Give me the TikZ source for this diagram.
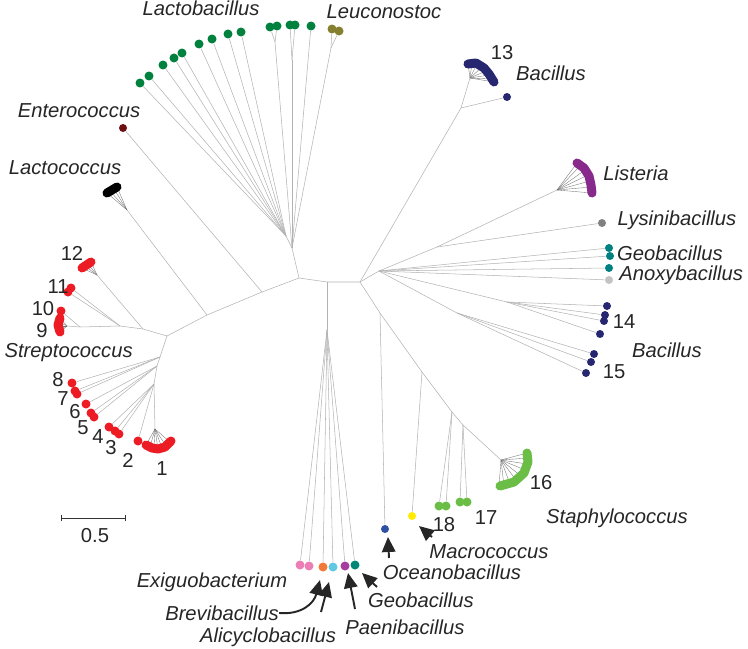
\documentclass[tikz,border=0pt]{standalone}
\usepackage{fontspec}
\setmainfont{Liberation Sans}
\usetikzlibrary{arrows.meta}
\definecolor{lactogreen}{RGB}{0,129,62}
\definecolor{leucolive}{RGB}{133,128,48}
\definecolor{enterored}{RGB}{110,15,20}
\definecolor{streptred}{RGB}{237,28,36}
\definecolor{bacnavy}{RGB}{38,38,113}
\definecolor{lismagenta}{RGB}{136,42,140}
\definecolor{lysgray}{RGB}{128,128,128}
\definecolor{geoteal}{RGB}{0,128,128}
\definecolor{anoxgray}{RGB}{195,195,195}
\definecolor{staphgreen}{RGB}{106,189,69}
\definecolor{macroyellow}{RGB}{255,236,0}
\definecolor{oceanblue}{RGB}{46,80,165}
\definecolor{exipink}{RGB}{236,126,182}
\definecolor{breviorange}{RGB}{242,122,56}
\definecolor{alicyan}{RGB}{96,200,225}
\definecolor{paepurple}{RGB}{165,60,160}
\definecolor{geobteal}{RGB}{0,135,120}
\begin{document}
\begin{tikzpicture}[x=0.02cm,y=-0.02cm,
  branch/.style={gray!60,line width=0.3pt},
  fan/.style={black!55,line width=0.2pt},
  leaf/.style={circle,fill=#1,inner sep=0pt,minimum size=0.18cm},
  smallleaf/.style={circle,fill=#1,inner sep=0pt,minimum size=0.16cm},
  blob/.style={#1,line width=0.18cm,line cap=round,line join=round},
  genus/.style={font=\fontsize{11.5}{13}\selectfont\itshape,text=black!85,inner sep=0pt},
  num/.style={font=\fontsize{11.5}{13}\selectfont,text=black!85,inner sep=0pt},
  pointer/.style={black!85,line width=1.1pt,-{Triangle[length=0.3cm,width=0.27cm]}}]
\useasboundingbox (0,0) rectangle (748,649);

% backbone
\coordinate (rootA) at (299,278);
\coordinate (rootB) at (327,282);
\coordinate (rootC) at (360,282);
\coordinate (entN) at (262,292);
\coordinate (lcN) at (207,315);
\coordinate (strH) at (167,336);
\draw[branch] (lcN) -- (entN) -- (rootA) -- (rootB) -- (rootC);
\draw[branch] (strH) -- (lcN);

% Lactobacillus / Leuconostoc
\coordinate (lacH) at (292,248);
\coordinate (lacL) at (286,236);
\coordinate (lacT) at (275,42);
\coordinate (lacV) at (292,60);
\coordinate (leuN) at (331,48);
\draw[branch] (rootA) -- (lacH) -- (lacL);
\draw[branch] (lacH) -- (lacV);
\draw[branch] (lacH) -- (lacT);
\draw[branch] (lacH) -- (leuN);
\foreach \x/\y [count=\i] in {140/83,149/76,163/65,174/58,182/53,199/44,212/39,228/34,241/32,270/27,277/26,290/25,295/25,311/26}
  \node[leaf=lactogreen] (lb\i) at (\x,\y) {};
\foreach \i in {1,...,9} \draw[branch] (lacL) -- (lb\i);
\draw[branch] (lacT) -- (lb10);
\draw[branch] (lacT) -- (lb11);
\draw[branch] (lacV) -- (lb12);
\draw[branch] (lacV) -- (lb13);
\draw[branch] (lacH) -- (lb14);
\node[leaf=leucolive] (leu1) at (332,29) {};
\node[leaf=leucolive] (leu2) at (339,31) {};
\draw[branch] (leuN) -- (leu1);
\draw[branch] (leuN) -- (leu2);

% Enterococcus / Lactococcus
\node[smallleaf=enterored] (ent) at (123,128) {};
\draw[branch] (entN) -- (ent);
\coordinate (lcA) at (127,210);
\draw[branch] (lcN) -- (lcA);
\foreach \x/\y in {107/193,110/191,114/189,117/187} \draw[fan] (lcA) -- (\x,\y);
\draw[blob=black] (107,193) -- (112,190) -- (117,187);

% Streptococcus
\coordinate (str1) at (143,329);
\coordinate (str2) at (120,326);
\coordinate (str3) at (80,327);
\coordinate (a12) at (97,275);
\coordinate (a9) at (67,326);
\draw[branch] (strH) -- (str1) -- (str2) -- (str3) -- (a9);
\draw[branch] (str1) -- (a12);
\foreach \x/\y in {82/268,85/266,88/264,91/262} \draw[fan] (a12) -- (\x,\y);
\draw[blob=streptred] (82,268) -- (91,262);
\node[leaf=streptred] (s11a) at (68,292) {};
\node[leaf=streptred] (s11b) at (71,288) {};
\draw[branch] (str2) -- (s11a);
\draw[branch] (str2) -- (s11b);
\node[leaf=streptred] (s10) at (61,311) {};
\draw[branch] (str3) -- (s10);
\foreach \x/\y in {60/318,59/322,58/326,59/329,60/332} \draw[fan] (a9) -- (\x,\y);
\draw[blob=streptred] (60,318) -- (58,325) -- (60,332);
\coordinate (str4) at (160,357);
\coordinate (str5) at (157,366);
\coordinate (str6) at (154,384);
\coordinate (a1) at (155,429);
\draw[branch] (strH) -- (str4) -- (str5) -- (str6) -- (a1);
\foreach \x/\y [count=\i] in {72/383,75/391,77/394,86/404,91/413,94/417,109/427,115/431,119/434,138/441}
  \node[leaf=streptred] (sl\i) at (\x,\y) {};
\foreach \i in {1,2,3} \draw[branch] (str4) -- (sl\i);
\foreach \i in {4,5,6} \draw[branch] (str5) -- (sl\i);
\foreach \i in {7,8,9,10} \draw[branch] (str6) -- (sl\i);
\foreach \x/\y in {146/445,150/447,154/448,158/449,162/448,166/446,170/442} \draw[fan] (a1) -- (\x,\y);
\draw[blob=streptred] (146,445) -- (152,448) -- (158,449) -- (165,447) -- (171,441);

% Bacillus 13
\coordinate (b13N) at (461,108);
\coordinate (a13) at (470,78);
\draw[branch] (rootC) -- (b13N) -- (a13);
\node[smallleaf=bacnavy] (b13x) at (507,97) {};
\draw[branch] (b13N) -- (b13x);
\foreach \x/\y in {468/64,472/63,477/64,482/67,486/71,489/75,492/79,494/82} \draw[fan] (a13) -- (\x,\y);
\draw[blob=bacnavy] (468,64) -- (476,63) -- (484,68) -- (489,74) -- (494,82);

% Listeria, Lysinibacillus, Geobacillus, Anoxybacillus, Bacillus 14/15
\coordinate (rootD) at (379,271);
\coordinate (lisN) at (437,247);
\coordinate (lisA) at (557,190);
\draw[branch] (rootC) -- (rootD) -- (lisN) -- (lisA);
\foreach \x/\y in {577/163,581/165,585/170,588/175,590/181,591/187,592/193} \draw[fan] (lisA) -- (\x,\y);
\draw[blob=lismagenta] (577,163) -- (584,168) -- (589,176) -- (591,185) -- (592,193);
\node[smallleaf=lysgray] (lys) at (602,223) {};
\draw[branch] (lisN) -- (lys);
\node[smallleaf=geoteal] (geo1) at (609,248) {};
\node[smallleaf=geoteal] (geo2) at (610,256) {};
\node[smallleaf=geoteal] (geo3) at (609,268) {};
\node[smallleaf=anoxgray] (anox) at (609,280) {};
\foreach \n in {geo1,geo2,geo3,anox} \draw[branch] (rootD) -- (\n);
\coordinate (b14N) at (507,302);
\coordinate (b15N) at (457,313);
\draw[branch] (rootD) -- (b14N);
\draw[branch] (rootD) -- (b15N);
\foreach \x/\y [count=\i] in {607/306,605/315,604/321,600/334}
  \node[smallleaf=bacnavy] (b14\i) at (\x,\y) {};
\foreach \x/\y [count=\i] in {594/354,591/362,586/373}
  \node[smallleaf=bacnavy] (b15\i) at (\x,\y) {};
\foreach \i in {1,...,4} \draw[branch] (b14N) -- (b14\i);
\foreach \i in {1,...,3} \draw[branch] (b15N) -- (b15\i);

% Staphylococcus, Macrococcus, Oceanobacillus
\coordinate (rootE) at (380,313);
\coordinate (stM1) at (422,372);
\coordinate (stM2) at (452,412);
\coordinate (stM3) at (463,425);
\coordinate (stA) at (501,460);
\draw[branch] (rootC) -- (rootE) -- (stM1) -- (stM2) -- (stM3) -- (stA);
\node[smallleaf=oceanblue] (ocean) at (385,529) {};
\draw[branch] (rootE) -- (ocean);
\node[smallleaf=macroyellow] (macro) at (412,516) {};
\draw[branch] (stM1) -- (macro);
\node[leaf=staphgreen] (s18a) at (439,506) {};
\node[leaf=staphgreen] (s18b) at (446,506) {};
\node[leaf=staphgreen] (s17a) at (460,502) {};
\node[leaf=staphgreen] (s17b) at (467,502) {};
\draw[branch] (stM2) -- (s18a);
\draw[branch] (stM2) -- (s18b);
\draw[branch] (stM3) -- (s17a);
\draw[branch] (stM3) -- (s17b);
\foreach \x/\y in {527/453,528/458,527/464,525/470,521/476,516/480,510/484,504/486,499/486} \draw[fan] (stA) -- (\x,\y);
\draw[blob=staphgreen] (527,453) -- (528,462) -- (524,473) -- (514,482) -- (500,486);

% bottom group
\coordinate (rootF) at (327,330);
\draw[branch] (rootB) -- (rootF);
\node[leaf=exipink] (exi1) at (300,565) {};
\node[leaf=exipink] (exi2) at (309,566) {};
\node[leaf=breviorange] (brv) at (323,567) {};
\node[leaf=alicyan] (ali) at (333,567) {};
\node[leaf=paepurple] (pae) at (345,566) {};
\node[leaf=geobteal] (geob) at (355,565) {};
\foreach \n in {exi1,exi2,brv,ali,pae,geob} \draw[branch] (rootF) -- (\n);

% labels
\node[genus] (lactobacillus) at (201,8) {Lactobacillus};
\node[genus] (leuconostoc) at (384,12) {Leuconostoc};
\node[genus] (enterococcus) at (79,111) {Enterococcus};
\node[genus] (lactococcus) at (65,168) {Lactococcus};
\node[genus,anchor=east] (streptococcus) at (133,353) {Streptococcus};
\node[num] (n12) at (72,253) {12};
\node[num] (n11) at (58,287) {11};
\node[num] (n10) at (43,309) {10};
\node[num] (n9) at (42,331) {9};
\node[num] (n8) at (58,380) {8};
\node[num] (n7) at (63,399) {7};
\node[num] (n6) at (75,412) {6};
\node[num] (n5) at (83,428) {5};
\node[num] (n4) at (98,437) {4};
\node[num] (n3) at (111,448) {3};
\node[num] (n2) at (128,460) {2};
\node[num] (n1) at (162,469) {1};
\node[num] (n13) at (502,53) {13};
\node[genus] (bacillusA) at (551,73) {Bacillus};
\node[genus] (listeria) at (636,173) {Listeria};
\node[genus] (lysinibacillus) at (677,220) {Lysinibacillus};
\node[genus] (geobacillusA) at (670,253) {Geobacillus};
\node[genus,anchor=west] (anoxybacillus) at (619,275) {Anoxybacillus};
\node[num] (n14) at (624,322) {14};
\node[genus] (bacillusB) at (667,350) {Bacillus};
\node[num] (n15) at (614,372) {15};
\node[num] (n16) at (541,483) {16};
\node[num] (n17) at (486,518) {17};
\node[num] (n18) at (444,525) {18};
\node[genus] (staphylococcus) at (617,518) {Staphylococcus};
\node[genus] (macrococcus) at (489,552) {Macrococcus};
\node[genus] (oceanobacillus) at (452,572) {Oceanobacillus};
\node[genus] (geobacillusB) at (421,600) {Geobacillus};
\node[genus] (paenibacillus) at (405,627) {Paenibacillus};
\node[genus] (alicyclobacillus) at (268,637) {Alicyclobacillus};
\node[genus] (brevibacillus) at (222,613) {Brevibacillus};
\node[genus] (exiguobacterium) at (212,582) {Exiguobacterium};

% pointers
\coordinate (brvTip) at (320,580);
\coordinate (aliTail) at (321,612);
\coordinate (aliTip) at (329,582);
\coordinate (paeTail) at (355,609);
\coordinate (paeTip) at (348,573);
\coordinate (geoTail) at (377,587);
\coordinate (geoTip) at (362,573);
\coordinate (ocTail) at (389,558);
\coordinate (ocTip) at (388,537);
\coordinate (macTail) at (432,537);
\coordinate (macTip) at (419,526);
\draw[pointer] (brevibacillus.east) .. controls (302,615) and (314,603) .. (brvTip);
\draw[pointer] (aliTail) -- (aliTip);
\draw[pointer] (paeTail) -- (paeTip);
\draw[pointer] (geoTail) -- (geoTip);
\draw[pointer] (ocTail) -- (ocTip);
\draw[pointer] (macTail) -- (macTip);

% scale bar
\coordinate (barL) at (61,518);
\coordinate (barR) at (125,518);
\draw[black!80,line width=0.5pt] (barL) -- (barR);
\draw[black!80,line width=0.5pt] ([yshift=-0.06cm]barL) -- ([yshift=0.06cm]barL);
\draw[black!80,line width=0.5pt] ([yshift=-0.06cm]barR) -- ([yshift=0.06cm]barR);
\node[num] (scale) at (95,536) {0.5};
\end{tikzpicture}
\end{document}
